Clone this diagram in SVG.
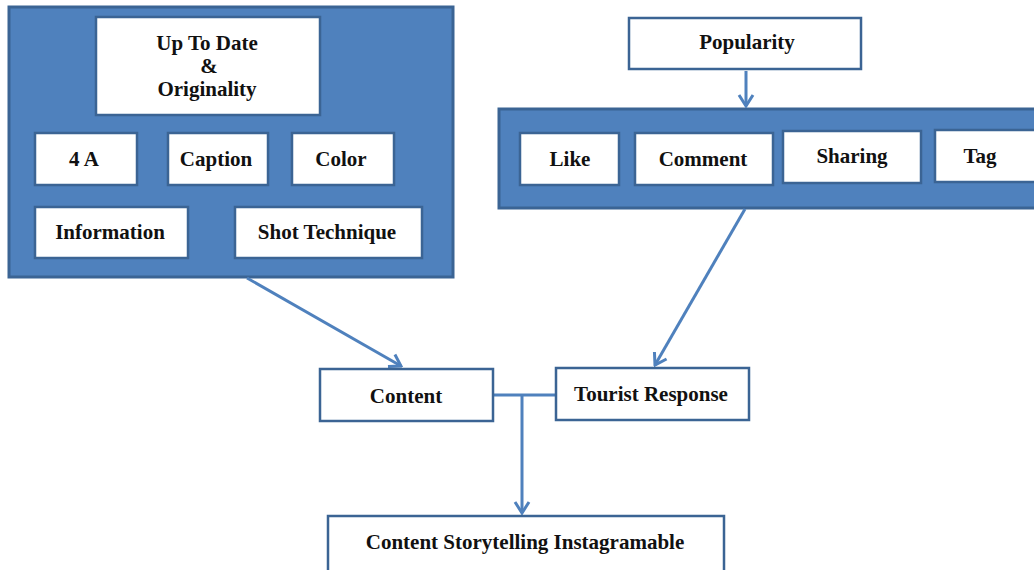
<svg xmlns="http://www.w3.org/2000/svg" width="1034" height="570" viewBox="0 0 1034 570">
<style>
.panel{fill:#4F81BD;stroke:#3B6494;stroke-width:3}
.box{fill:#FFFFFF;stroke:#3B6494;stroke-width:2.5}
.lbl{font-family:"Liberation Serif","Times New Roman",serif;font-weight:bold;font-size:21px;fill:#111;text-anchor:middle}
.conn{fill:none;stroke:#4F81BD;stroke-width:3}
</style>
<defs>
<marker id="arr" markerUnits="userSpaceOnUse" viewBox="-14 -9 16 18" markerWidth="16" markerHeight="18" refX="0" refY="0" orient="auto">
<path d="M-11,-7 L0,0 L-11,7" fill="none" stroke="#4F81BD" stroke-width="3"/>
</marker>
</defs>
<rect width="1034" height="570" fill="#FFFFFF"/>
<g id="left-panel">
<rect class="panel" x="9" y="7" width="444" height="270"/>
</g>
<g id="right-panel">
<rect class="panel" x="499" y="109" width="545" height="99"/>
</g>
<g id="connectors">
<line class="conn" x1="247" y1="278" x2="401" y2="366" marker-end="url(#arr)"/>
<line class="conn" x1="746" y1="71" x2="746" y2="106" marker-end="url(#arr)"/>
<line class="conn" x1="745" y1="209" x2="655" y2="365" marker-end="url(#arr)"/>
<line class="conn" x1="494" y1="395" x2="556" y2="395"/>
<line class="conn" x1="522" y1="395" x2="522" y2="513" marker-end="url(#arr)"/>
</g>
<g id="up-to-date">
<rect class="box" x="96" y="17" width="224" height="98"/>
<text class="lbl" x="207" y="50">Up To Date</text>
<text class="lbl" x="209" y="73">&amp;</text>
<text class="lbl" x="207" y="96">Originality</text>
</g>
<g id="four-a">
<rect class="box" x="35" y="133" width="102" height="52"/>
<text class="lbl" x="84" y="166">4 A</text>
</g>
<g id="caption">
<rect class="box" x="168" y="133" width="100" height="52"/>
<text class="lbl" x="216" y="166">Caption</text>
</g>
<g id="color">
<rect class="box" x="292" y="133" width="102" height="52"/>
<text class="lbl" x="341" y="166">Color</text>
</g>
<g id="information">
<rect class="box" x="35" y="207" width="153" height="51"/>
<text class="lbl" x="110" y="239">Information</text>
</g>
<g id="shot-technique">
<rect class="box" x="235" y="207" width="187" height="51"/>
<text class="lbl" x="327" y="239">Shot Technique</text>
</g>
<g id="popularity">
<rect class="box" x="629" y="18" width="232" height="51"/>
<text class="lbl" x="747" y="49">Popularity</text>
</g>
<g id="like">
<rect class="box" x="520" y="133" width="99" height="52"/>
<text class="lbl" x="570" y="166">Like</text>
</g>
<g id="comment">
<rect class="box" x="635" y="133" width="138" height="52"/>
<text class="lbl" x="703" y="166">Comment</text>
</g>
<g id="sharing">
<rect class="box" x="783" y="131" width="138" height="52"/>
<text class="lbl" x="852" y="163">Sharing</text>
</g>
<g id="tag">
<rect class="box" x="935" y="130" width="110" height="52"/>
<text class="lbl" x="980" y="163">Tag</text>
</g>
<g id="content">
<rect class="box" x="320" y="369" width="173" height="52"/>
<text class="lbl" x="406" y="403">Content</text>
</g>
<g id="tourist-response">
<rect class="box" x="556" y="368" width="193" height="52"/>
<text class="lbl" x="651" y="401">Tourist Response</text>
</g>
<g id="storytelling">
<rect class="box" x="328" y="516" width="396" height="56"/>
<text class="lbl" x="525" y="549">Content Storytelling Instagramable</text>
</g>
</svg>
